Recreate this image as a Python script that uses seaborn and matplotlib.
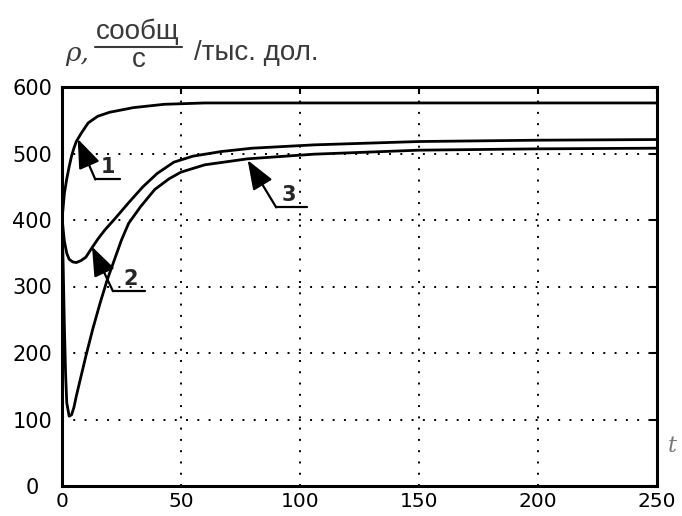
import matplotlib
matplotlib.use("Agg")
import matplotlib.pyplot as plt
import numpy as np
import pandas as pd
import seaborn as sns
from matplotlib.lines import Line2D

# ---- data ----
t1 = [0, 0.5, 1, 2, 3, 4, 5, 6, 8, 11, 15, 20, 30, 43, 60, 100, 150, 200, 250]
rho1 = [400, 420, 440, 462, 480, 496, 508, 518, 530, 546, 556, 562, 569, 574, 576, 576, 576, 576, 576]

t2 = [0, 0.5, 1, 2, 3, 4.5, 6, 8, 10, 12, 15, 18, 22, 28, 34, 40, 47, 55, 67, 80, 106, 150, 200, 250]
rho2 = [405, 385, 368, 350, 341, 337, 336, 339, 344, 355, 371, 385, 401, 426, 450, 470, 487, 496, 503, 508, 513, 518, 520, 521]

t3 = [0, 0.5, 1, 1.5, 2, 3, 4, 5, 6, 8, 10, 13, 16, 19, 22, 25, 28, 33, 39, 45, 50, 60, 78, 106, 150, 200, 250]
rho3 = [400, 330, 240, 170, 125, 105, 107, 118, 135, 165, 195, 237, 275, 310, 340, 370, 395, 420, 446, 462, 472, 483, 492, 499, 505, 507, 508]

x_ticks = [0, 50, 100, 150, 200, 250]
y_ticks = [0, 100, 200, 300, 400, 500, 600]

curve_labels = ["1", "2", "3"]
arrow_heads = [(6.6, 522), (12.6, 360), (78, 490)]
arrow_tails = [(14, 461), (21.4, 293), (90, 419)]
underline_ends = [24.4, 34.9, 103]
label_pos = [(19.3, 479), (29.0, 312), (95.5, 437)]

# ---- style ----
sns.set_theme(style="white")
plt.rcParams["font.family"] = ["DejaVu Sans"]

W, H = 682, 516
fig = plt.figure(figsize=(W / 100, H / 100), dpi=100)
ax = fig.add_axes([62 / W, 1 - 486 / H, (657 - 62) / W, (486 - 87) / H])

for t, r in [(t1, rho1), (t2, rho2), (t3, rho3)]:
    df = pd.DataFrame({"t": t, "rho": r})
    sns.lineplot(data=df, x="t", y="rho", ax=ax, color="black", linewidth=2.0,
                 sort=False, estimator=None)

ax.set_xlim(0, 250)
ax.set_ylim(0, 600)
ax.set_xticks(x_ticks)
ax.set_yticks(y_ticks)
ax.set_xlabel("")
ax.set_ylabel("")
ax.grid(True, color="black", linestyle=(0, (1, 4.8)), linewidth=1.4)
for s in ax.spines.values():
    s.set_color("black")
    s.set_linewidth(2.2)
ax.tick_params(axis="both", direction="in", length=5, width=1.5, top=True, right=True,
               colors="black", labelsize=15)
ax.tick_params(axis="y", pad=21.5)
ax.tick_params(axis="x", labelsize=14.5, pad=4)
for lab in ax.get_yticklabels():
    lab.set_horizontalalignment("center")

# annotation arrows with labels
for lab, head, tail, xend, lp in zip(curve_labels, arrow_heads, arrow_tails, underline_ends, label_pos):
    ax.annotate("", xy=head, xytext=tail,
                arrowprops=dict(arrowstyle="-|>,head_length=0.9,head_width=0.34",
                                mutation_scale=20, color="black", lw=1.6,
                                shrinkA=0, shrinkB=0))
    ax.plot([tail[0], xend], [tail[1], tail[1]], color="black", lw=1.6)
    ax.text(lp[0], lp[1], lab, fontsize=15, fontweight="bold", ha="center", va="center")

# y label (fraction) at top
col = "#3a3a3a"
fs = 20
fig.text(65 / W, 1 - 61 / H, "ρ,", fontsize=fs - 1, color=col, ha="left", va="baseline",
         family=["DejaVu Serif"], style="italic")
fig.text(138 / W, 1 - 39 / H, "сообщ", fontsize=fs, color=col, ha="center", va="baseline",
         family=["Liberation Sans"])
fig.add_artist(Line2D([95 / W, 182 / W], [1 - 47 / H, 1 - 47 / H], color=col, lw=1.5,
                      transform=fig.transFigure))
fig.text(139 / W, 1 - 67 / H, "с", fontsize=fs, color=col, ha="center", va="baseline",
         family=["Liberation Sans"])
fig.text(194 / W, 1 - 60 / H, "/тыс. дол.", fontsize=fs, color=col, ha="left", va="baseline",
         family=["Liberation Sans"])

# axis variable near the right edge
fig.text(668 / W, 1 - 452 / H, "t", fontsize=16, color="#777777", style="italic",
         ha="left", va="baseline", family=["DejaVu Serif"])

fig.savefig("out.png", dpi=100)
